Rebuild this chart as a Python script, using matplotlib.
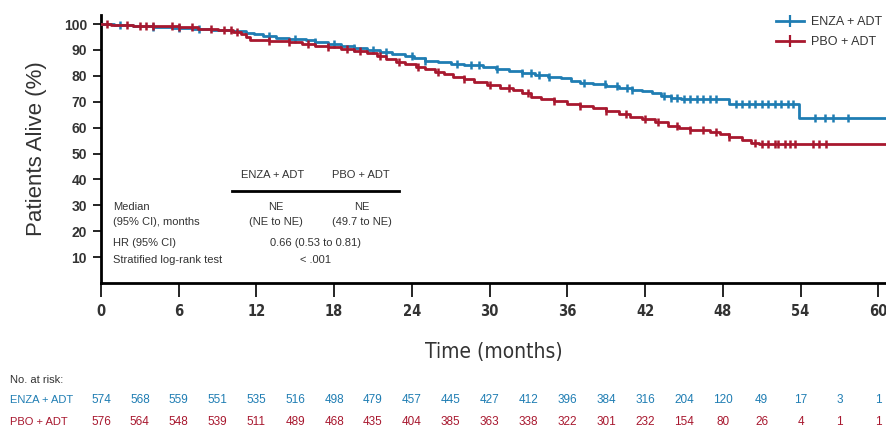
import matplotlib
matplotlib.use("Agg")
import matplotlib.pyplot as plt
from matplotlib.lines import Line2D
from matplotlib import font_manager as fm

# Kaplan-Meier step points (months, % alive)
enza_t = [0, 1.0, 2.5, 4.0, 5.5, 7.0, 8.5, 10.0, 11.2, 11.8, 12.5, 13.5, 14.5, 15.8,
          16.5, 17.5, 18.5, 19.5, 20.5, 21.5, 22.5, 23.5, 24.2, 25.0, 26.0, 27.0,
          28.0, 29.5, 30.5, 31.5, 32.5, 33.5, 34.5, 35.5, 36.3, 37.0, 38.0, 39.0,
          40.0, 41.0, 41.8, 42.5, 43.2, 44.0, 44.8, 48.5, 53.9, 60.6]
enza_s = [100, 99.6, 99.3, 99.0, 98.6, 98.2, 97.8, 97.4, 96.7, 96.0, 95.3, 94.8, 94.3,
          93.8, 93.0, 92.3, 91.5, 90.8, 90.0, 89.3, 88.5, 87.6, 86.8, 85.9, 85.2,
          84.6, 84.1, 83.5, 82.7, 81.8, 81.2, 80.4, 79.7, 79.0, 78.0, 77.4, 76.8,
          76.2, 75.5, 74.6, 74.0, 73.2, 72.4, 71.6, 71.0, 69.2, 63.6, 63.6]
enza_cens = [1.5, 4.0, 6.0, 7.6, 13.0, 15.0, 16.5, 18.0, 19.5, 21.0, 22.0, 24.0, 25.0,
             27.5, 28.6, 29.2, 30.6, 32.5, 33.2, 33.8, 34.6, 37.3, 38.9, 39.8, 40.6,
             41.0, 43.5, 44.0, 44.5, 45.0, 45.5, 46.0, 46.5, 47.0, 47.5, 49.0, 49.5,
             50.0, 50.5, 51.0, 51.5, 52.0, 52.5, 53.0, 53.4, 55.1, 55.9, 56.5, 57.7]

pbo_t = [0, 0.8, 2.5, 4.5, 6.0, 7.5, 9.0, 10.2, 10.8, 11.2, 11.5, 13.0, 14.5, 15.5,
         16.5, 17.5, 18.5, 19.5, 20.5, 21.3, 22.0, 22.8, 23.5, 24.3, 25.0, 25.8,
         26.5, 27.2, 28.0, 28.8, 29.8, 30.8, 31.8, 32.5, 33.2, 34.0, 35.0, 36.0,
         37.0, 38.0, 39.0, 40.0, 40.8, 41.8, 42.8, 43.8, 44.6, 45.5, 47.0, 47.8,
         48.5, 49.5, 50.2, 50.8, 60.6]
pbo_s = [100, 99.7, 99.4, 99.1, 98.7, 98.2, 97.6, 97.0, 96.3, 95.0, 94.0, 93.6, 93.0,
         92.3, 91.6, 91.0, 90.3, 89.6, 88.9, 87.8, 86.7, 85.5, 84.5, 83.4, 82.5,
         81.5, 80.6, 79.6, 78.6, 77.5, 76.6, 75.5, 74.5, 73.4, 72.0, 71.0, 70.2,
         69.3, 68.4, 67.5, 66.6, 65.3, 64.2, 63.2, 62.0, 60.8, 59.8, 58.9, 58.4,
         57.4, 56.5, 55.3, 54.2, 53.6, 53.6]
pbo_cens = [0.5, 2.0, 3.0, 3.5, 4.0, 5.5, 6.0, 7.0, 8.5, 9.5, 10.0, 10.5, 13.0, 14.5,
            16.0, 17.5, 19.0, 20.0, 21.5, 23.0, 24.5, 26.0, 28.0, 30.0, 31.5, 33.0,
            35.0, 37.0, 39.0, 40.5, 42.0, 43.0, 44.5, 45.5, 46.5, 47.5, 48.5, 50.5,
            51.0, 51.5, 52.0, 52.3, 52.8, 53.2, 53.6, 55.0, 55.4, 56.0]

risk_times = list(range(0, 61, 3))
enza_risk = [574, 568, 559, 551, 535, 516, 498, 479, 457, 445, 427, 412, 396, 384,
             316, 204, 120, 49, 17, 3, 1]
pbo_risk = [576, 564, 548, 539, 511, 489, 468, 435, 404, 385, 363, 338, 322, 301,
            232, 154, 80, 26, 4, 1, 1]

BLUE = "#1f7db3"
RED = "#a8182f"
GREY = "#333333"

plt.rcParams["font.family"] = ["Liberation Sans", "DejaVu Sans"]

# narrow face for the axis numbers if one is installed
cond = [f for f in fm.fontManager.ttflist if "ondensed" in f.fname or "Narrow" in f.name]
if cond:
    NARROW = dict(family=cond[0].name, stretch=cond[0].stretch)
else:
    NARROW = dict(family="Liberation Sans")


def surv_at(times, surv, x):
    val = surv[0]
    for t, s in zip(times, surv):
        if t <= x:
            val = s
    return val


fig = plt.figure(figsize=(8.86, 4.30), dpi=100)
ax = fig.add_axes([101 / 886, 1 - 283 / 430, 1 - 101 / 886, 268 / 430])

for times, surv, cens, color in [(enza_t, enza_s, enza_cens, BLUE),
                                 (pbo_t, pbo_s, pbo_cens, RED)]:
    ax.plot(times, surv, drawstyle="steps-post", color=color, lw=2, zorder=3)
    ax.plot(cens, [surv_at(times, surv, c) for c in cens], ls="none", marker="|",
            ms=6, mew=1.8, color=color, zorder=3)

ax.set_xlim(0, 60.6)
ax.set_ylim(0, 103.5)
ax.set_xticks(range(0, 61, 6))
ax.set_yticks(range(10, 101, 10))
for s in ["top", "right"]:
    ax.spines[s].set_visible(False)
for s in ["left", "bottom"]:
    ax.spines[s].set_linewidth(2)
ax.tick_params(axis="y", length=6, width=1.2, labelsize=10, labelcolor=GREY, pad=4)
ax.tick_params(axis="x", length=10, width=1.2, labelsize=10.5, labelcolor=GREY, pad=5)
for lab in ax.get_yticklabels():
    lab.set_fontweight("bold")
for lab in ax.get_xticklabels():
    lab.set_family(NARROW["family"])
    if "stretch" in NARROW:
        lab.set_fontstretch(NARROW["stretch"])
    lab.set_fontweight("bold")

ax.set_ylabel("Patients Alive (%)", fontsize=16, color=GREY, labelpad=12)
ax.set_xlabel("Time (months)", fontsize=15, color=GREY, labelpad=17, **NARROW)

# legend
handles = [Line2D([], [], color=BLUE, lw=2, marker="|", ms=8, mew=1.6),
           Line2D([], [], color=RED, lw=2, marker="|", ms=8, mew=1.6)]
fig.legend(handles, ["ENZA + ADT", "PBO + ADT"], loc="upper left",
           bbox_to_anchor=(776 / 886, 1 - 16 / 430), frameon=False, fontsize=9,
           handlelength=2.2, handletextpad=0.6, labelspacing=0.65, borderpad=0,
           borderaxespad=0, labelcolor=GREY)


# inset summary table
def ftext(x, y, s, color=GREY, **kw):
    fig.text(x / 886, 1 - y / 430, s, fontsize=8, color=color, va="center", **kw)


ftext(273, 175, "ENZA + ADT", ha="center")
ftext(361, 175, "PBO + ADT", ha="center")
fig.add_artist(Line2D([232 / 886, 399 / 886], [1 - 191 / 430, 1 - 191 / 430],
                      color="black", lw=2))
ftext(113, 207, "Median")
ftext(113, 222, "(95% CI), months")
ftext(276, 207, "NE", ha="center")
ftext(276, 222, "(NE to NE)", ha="center")
ftext(362, 207, "NE", ha="center")
ftext(362, 222, "(49.7 to NE)", ha="center")
ftext(113, 243, "HR (95% CI)")
ftext(316, 243, "0.66 (0.53 to 0.81)", ha="center")
ftext(113, 260, "Stratified log-rank test")
ftext(316, 260, "< .001", ha="center")

# number at risk
ftext(10, 380, "No. at risk:")
ftext(10, 400, "ENZA + ADT", color=BLUE)
ftext(10, 422, "PBO + ADT", color=RED)
for t, e, p in zip(risk_times, enza_risk, pbo_risk):
    xf = ax.transData.transform((t, 0))[0] / fig.bbox.width
    fig.text(xf, 1 - 400 / 430, str(e), fontsize=8.5, color=BLUE, ha="center", va="center")
    fig.text(xf, 1 - 422 / 430, str(p), fontsize=8.5, color=RED, ha="center", va="center")

fig.savefig("out.png", dpi=100)
